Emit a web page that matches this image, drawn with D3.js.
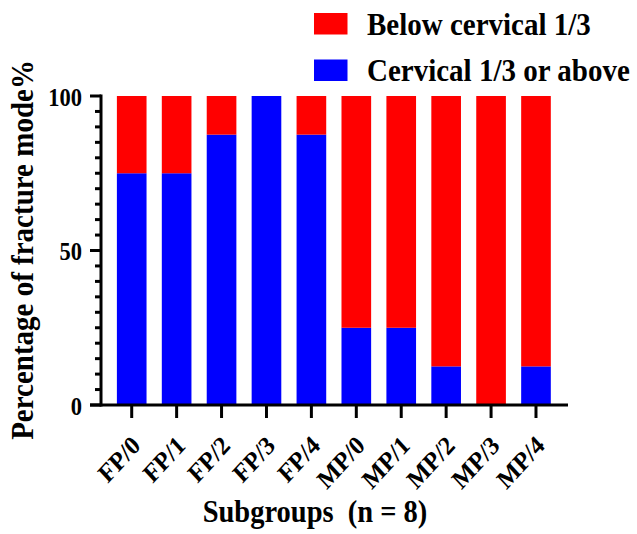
<!DOCTYPE html>
<html>
<head>
<meta charset="utf-8">
<script src="https://cdn.jsdelivr.net/npm/d3@7"></script>
<style>
  body { margin: 0; background: #fff; }
  svg { display: block; }
</style>
</head>
<body>
<svg id="chart" width="637" height="534"></svg>
<script>
const categories = ["FP/0", "FP/1", "FP/2", "FP/3", "FP/4", "MP/0", "MP/1", "MP/2", "MP/3", "MP/4"];
// percent of specimens per mode
const cervicalOrAbove = [75, 75, 87.5, 100, 87.5, 25, 25, 12.5, 0, 12.5];
const belowCervical = [25, 25, 12.5, 0, 12.5, 75, 75, 87.5, 100, 87.5];
const seriesNames = ["Below cervical 1/3", "Cervical 1/3 or above"];
const seriesColors = ["#FF0000", "#0000FF"];
const yTicks = [0, 50, 100];

const font = "'Liberation Serif', 'Times New Roman', serif";
const stretch = 1.09; // glyphs in the reference are a little taller than wide

function boldText(sel, size) {
  return sel
    .style("font-family", font)
    .style("font-weight", "bold")
    .style("font-size", size + "px");
}

function drawChart() {
  const svg = d3.select("#chart");

  const left = 101, right = 568, top = 96, bottom = 405;

  const x = d3.scaleBand()
    .domain(categories)
    .range([109.25, 558.45])
    .paddingInner(0.34)
    .paddingOuter(0.17);

  const y = d3.scaleLinear()
    .domain([0, 100])
    .range([bottom, top]);

  const data = categories.map((c, i) => ({
    cat: c,
    low: cervicalOrAbove[i],
    high: belowCervical[i]
  }));

  // bars: blue on bottom, red stacked above
  const g = svg.append("g");
  g.selectAll("rect.blue")
    .data(data)
    .enter().append("rect")
    .attr("class", "blue")
    .attr("x", d => x(d.cat))
    .attr("width", x.bandwidth())
    .attr("y", d => y(d.low))
    .attr("height", d => y(0) - y(d.low))
    .attr("fill", seriesColors[1]);

  g.selectAll("rect.red")
    .data(data)
    .enter().append("rect")
    .attr("class", "red")
    .attr("x", d => x(d.cat))
    .attr("width", x.bandwidth())
    .attr("y", d => y(d.low + d.high))
    .attr("height", d => y(d.low) - y(d.low + d.high))
    .attr("fill", seriesColors[0]);

  // y axis with minor ticks every 5
  const yAxis = svg.append("g")
    .attr("transform", `translate(${left},0)`);
  yAxis.append("line")
    .attr("x1", 0).attr("x2", 0)
    .attr("y1", y(100) - 1.5).attr("y2", y(0) + 1.5)
    .attr("stroke", "#000").attr("stroke-width", 3);
  yAxis.selectAll("line.minor")
    .data(d3.range(0, 101, 5))
    .enter().append("line")
    .attr("x1", d => yTicks.includes(d) ? -11 : -6)
    .attr("x2", 0)
    .attr("y1", d => y(d)).attr("y2", d => y(d))
    .attr("stroke", "#000").attr("stroke-width", 3);
  boldText(yAxis.selectAll("text")
    .data(yTicks)
    .enter().append("text")
    .attr("transform", d => `translate(-19,${y(d) + 9.5}) scale(1,${stretch})`)
    .attr("text-anchor", "end"), 22.5)
    .text(d => d);

  // x axis
  const xAxis = svg.append("g")
    .attr("transform", `translate(0,${bottom})`);
  xAxis.append("line")
    .attr("x1", left - 11).attr("x2", right)
    .attr("y1", 0).attr("y2", 0)
    .attr("stroke", "#000").attr("stroke-width", 3);
  xAxis.selectAll("line.tick")
    .data(categories)
    .enter().append("line")
    .attr("x1", d => x(d) + x.bandwidth() / 2)
    .attr("x2", d => x(d) + x.bandwidth() / 2)
    .attr("y1", 0).attr("y2", 13)
    .attr("stroke", "#000").attr("stroke-width", 3);
  boldText(xAxis.selectAll("text")
    .data(categories)
    .enter().append("text")
    .attr("transform", d => `translate(${x(d) + x.bandwidth() / 2 + 10},42) scale(1,${stretch}) rotate(-45)`)
    .attr("text-anchor", "end"), 24)
    .text(d => d);

  // axis titles
  boldText(svg.append("text")
    .attr("transform", `translate(315,521.5) scale(1,${stretch})`)
    .attr("text-anchor", "middle")
    .style("white-space", "pre"), 28.5)
    .text("Subgroups  (n = 8)");

  boldText(svg.append("text")
    .attr("transform", `translate(33,250) scale(${stretch},1) rotate(-90)`)
    .attr("text-anchor", "middle"), 29)
    .text("Percentage of fracture mode%");

  // legend
  const legend = svg.append("g");
  seriesNames.forEach((name, i) => {
    const ly = 13 + i * 46.5;
    legend.append("rect")
      .attr("x", 314).attr("y", ly)
      .attr("width", 33.5).attr("height", 21.5)
      .attr("fill", seriesColors[i]);
    boldText(legend.append("text")
      .attr("transform", `translate(367,${ly + 21.5}) scale(1,${stretch})`), 29)
      .text(name);
  });
}

window.addEventListener("DOMContentLoaded", drawChart);
</script>
</body>
</html>
